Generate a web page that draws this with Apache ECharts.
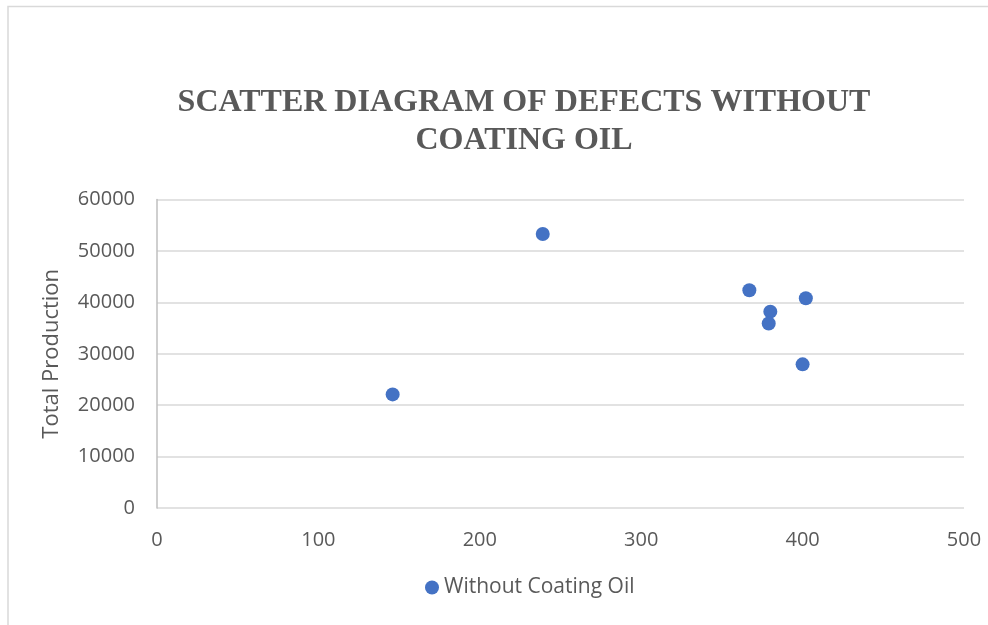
<!DOCTYPE html>
<html>
<head>
<meta charset="utf-8">
<script src="https://cdn.jsdelivr.net/npm/echarts@6/dist/echarts.min.js"></script>
<style>
html,body{margin:0;padding:0;background:#fff;}
#c{width:988px;height:625px;}
</style>
</head>
<body>
<div id="c"></div>
<script>
var seriesName = "Without Coating Oil";
var defects = [146, 239, 367, 380, 379, 402, 400];
var production = [22100, 53300, 42350, 38200, 35900, 40800, 27950];
var xTicks = [0, 100, 200, 300, 400, 500];
var yTicks = [0, 10000, 20000, 30000, 40000, 50000, 60000];

var data = defects.map(function(d, i){ return [d, production[i]]; });
var chart = echarts.init(document.getElementById('c'));
chart.setOption({
  animation: false,
  backgroundColor: '#fff',
  graphic: [{
    type: 'rect', left: 5.5, top: 4, shape: {width: 990, height: 640},
    style: {fill: 'none', stroke: '#d9d9d9', lineWidth: 1.5}, silent: true
  }, {
    type: 'text', x: 524, y: 84,
    style: {
      text: 'SCATTER DIAGRAM OF DEFECTS WITHOUT\nCOATING OIL',
      textAlign: 'center', textVerticalAlign: 'top',
      font: 'bold 32px "Liberation Serif"', fill: '#595959', lineHeight: 38
    }, silent: true
  }],
  grid: {left: 157, right: 24, top: 199.6, bottom: 117, containLabel: false},
  xAxis: {
    type: 'value', min: 0, max: 500, interval: 100,
    axisLine: {show: false}, axisTick: {show: false},
    splitLine: {show: false},
    axisLabel: {fontFamily: 'Open Sans', fontSize: 20, color: '#595959', margin: 22,
      formatter: function(v){ return String(v); }}
  },
  yAxis: {
    type: 'value', min: 0, max: 60000, interval: 10000,
    name: 'Total Production', nameLocation: 'middle', nameGap: 94,
    nameTextStyle: {fontFamily: 'Open Sans', fontSize: 22, color: '#595959'},
    axisLine: {show: true, lineStyle: {color: '#bfbfbf', width: 1.5}}, axisTick: {show: false},
    splitLine: {lineStyle: {color: '#d9d9d9', width: 1.5}},
    axisLabel: {fontFamily: 'Open Sans', fontSize: 20, color: '#595959', margin: 22,
      formatter: function(v){ return String(v); }}
  },
  legend: {
    bottom: 22, left: 420, itemWidth: 14, itemHeight: 14, itemGap: 5,
    textStyle: {fontFamily: 'Open Sans', fontSize: 21, color: '#595959'},
    data: [{name: seriesName, icon: 'circle'}]
  },
  series: [{
    name: seriesName, type: 'scatter', data: data, symbolSize: 14,
    itemStyle: {color: '#4472C4', opacity: 1}
  }]
});
</script>
</body>
</html>
